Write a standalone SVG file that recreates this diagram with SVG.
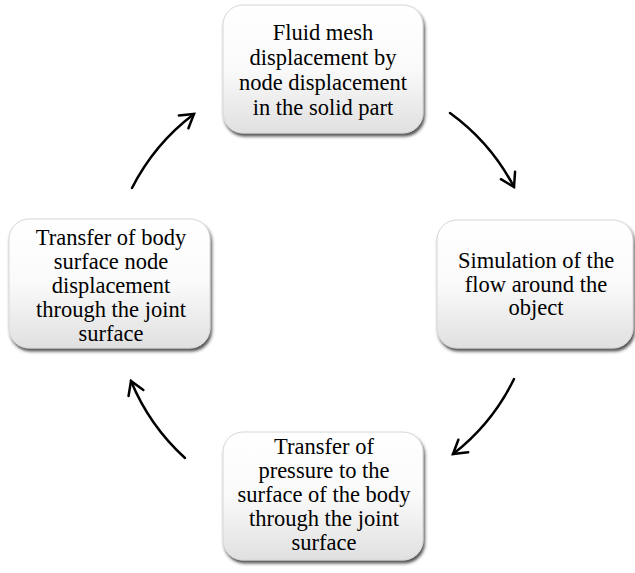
<svg xmlns="http://www.w3.org/2000/svg" width="635" height="573" viewBox="0 0 635 573">
<defs>
<linearGradient id="g" x1="0" y1="0" x2="0" y2="1">
<stop offset="0" stop-color="#ffffff"/>
<stop offset="0.5" stop-color="#fafafa"/>
<stop offset="1" stop-color="#e0e0e0"/>
</linearGradient>
<filter id="sh" x="-10%" y="-10%" width="125%" height="130%">
<feDropShadow dx="1.5" dy="3" stdDeviation="1.8" flood-color="#2a2a2a" flood-opacity="0.8"/>
</filter>
<marker id="ah" markerUnits="userSpaceOnUse" markerWidth="30" markerHeight="30" refX="0" refY="0" viewBox="-16 -15 30 30" orient="auto">
<path d="M -13 -8 L 0 0 L -13 8" fill="none" stroke="#000" stroke-width="2.5" stroke-linecap="round" stroke-linejoin="miter"/>
</marker>
<style>
.box{fill:url(#g);stroke:#d6d6d6;stroke-width:1;filter:url(#sh)}
.t{font-family:"Liberation Serif","Times New Roman",serif;font-size:22.5px;fill:#000;text-anchor:middle}
.c{fill:none;stroke:#000;stroke-width:2.5;stroke-linecap:round;marker-end:url(#ah)}
</style>
</defs>
<g id="connectors">
<path class="c" d="M 450 113 A 214 214 0 0 1 514 187"/>
<path class="c" d="M 514 379 A 214 214 0 0 1 453 454"/>
<path class="c" d="M 185 458 A 214 214 0 0 1 131 381"/>
<path class="c" d="M 132 188 A 214 214 0 0 1 194 114"/>
</g>
<g id="node-top">
<rect class="box" x="223" y="5" width="200" height="128" rx="20"/>
<text class="t" x="323" y="40">Fluid mesh</text>
<text class="t" x="323" y="65">displacement by</text>
<text class="t" x="323" y="90">node displacement</text>
<text class="t" x="323" y="115">in the solid part</text>
</g>
<g id="node-right">
<rect class="box" x="437" y="220" width="196" height="128" rx="20"/>
<text class="t" x="536" y="268">Simulation of the</text>
<text class="t" x="536" y="291.5">flow around the</text>
<text class="t" x="536" y="315">object</text>
</g>
<g id="node-bottom">
<rect class="box" x="223" y="432" width="200" height="128" rx="20"/>
<text class="t" x="324" y="454">Transfer of</text>
<text class="t" x="324" y="478">pressure to the</text>
<text class="t" x="324" y="502">surface of the body</text>
<text class="t" x="324" y="526">through the joint</text>
<text class="t" x="324" y="550">surface</text>
</g>
<g id="node-left">
<rect class="box" x="9" y="219" width="201" height="129" rx="20"/>
<text class="t" x="111" y="245">Transfer of body</text>
<text class="t" x="111" y="269">surface node</text>
<text class="t" x="111" y="293">displacement</text>
<text class="t" x="111" y="317">through the joint</text>
<text class="t" x="111" y="341">surface</text>
</g>
</svg>
